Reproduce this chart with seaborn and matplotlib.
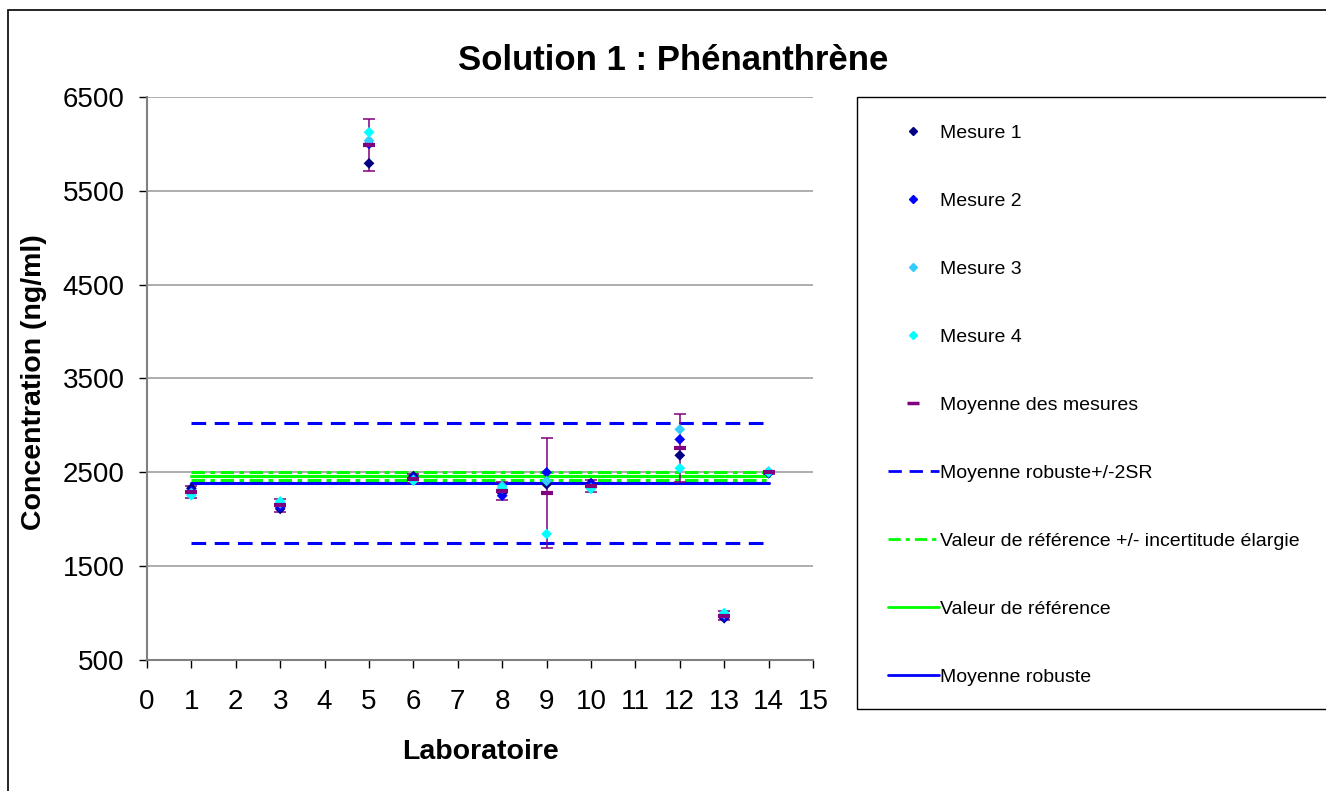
import matplotlib
matplotlib.use("Agg")
import matplotlib.pyplot as plt
from matplotlib.lines import Line2D
from matplotlib.patches import Rectangle
import seaborn as sns
import pandas as pd
import numpy as np

# ---------------- data ----------------
labs = [1, 3, 5, 6, 8, 9, 10, 12, 13, 14]
mesure1 = [2330, 2110, 5793, 2460, 2276, 2372, 2385, 2681, 945, 2495]
mesure2 = [2300, 2130, 6000, 2440, 2251, 2500, 2375, 2851, 960, 2490]
mesure3 = [2280, 2170, 6035, 2420, 2354, 2408, 2330, 2958, 990, 2510]
mesure4 = [2255, 2190, 6124, 2410, 2330, 1843, 2325, 2543, 1000, 2500]
moyennes = [2291, 2150, 5988, 2432, 2303, 2281, 2354, 2758, 974, 2499]
erreurs = [65, 70, 277, 45, 95, 588, 60, 365, 50, 15]

line_x = [1, 14]
moyenne_robuste = 2390
moy_rob_haut = 3030
moy_rob_bas = 1750
valeur_ref = 2461
val_ref_haut = 2500
val_ref_bas = 2422

series_names = ["Mesure 1", "Mesure 2", "Mesure 3", "Mesure 4"]
series_colors = ["#000080", "#0000FF", "#33CCFF", "#00FFFF"]

x_ticks = list(range(0, 16))
y_ticks = [500, 1500, 2500, 3500, 4500, 5500, 6500]

# ---------------- figure ----------------
sns.set_theme(style="white")
plt.rcParams["font.family"] = ["Liberation Sans", "DejaVu Sans"]
plt.rcParams["text.color"] = "black"
plt.rcParams["axes.labelcolor"] = "black"
plt.rcParams["xtick.color"] = "black"
plt.rcParams["ytick.color"] = "black"

W, H = 1326, 791
fig = plt.figure(figsize=(W / 100, H / 100), dpi=100)
ax = fig.add_axes([147 / W, 1 - 660 / H, (813 - 147) / W, (660 - 97) / H])

# reference lines
lines_df = pd.DataFrame({
    "x": line_x * 6,
    "y": [moy_rob_haut] * 2 + [moy_rob_bas] * 2 + [val_ref_haut] * 2 + [val_ref_bas] * 2
         + [valeur_ref] * 2 + [moyenne_robuste] * 2,
    "g": ["rh"] * 2 + ["rb"] * 2 + ["vh"] * 2 + ["vb"] * 2 + ["v"] * 2 + ["r"] * 2,
})
dash_blue = (4.8, 2.8)
dash_green = (4.4, 1.8, 1.5, 1.8)
styles = {
    "rh": ("#0000FF", dash_blue), "rb": ("#0000FF", dash_blue),
    "vh": ("#00FF00", dash_green), "vb": ("#00FF00", dash_green),
    "v": ("#00FF00", None), "r": ("#0000FF", None),
}
for g, (col, dash) in styles.items():
    sub = lines_df[lines_df["g"] == g]
    sns.lineplot(data=sub, x="x", y="y", color=col, linewidth=2.2, ax=ax,
                 legend=False, zorder=2)
    ln = ax.lines[-1]
    if dash is not None:
        ln.set_dashes(dash)

# error bars
ax.errorbar(labs, moyennes, yerr=erreurs, fmt="none", ecolor="#800080",
            elinewidth=1.1, capsize=4.5, capthick=1.1, zorder=3)

# measurements
rows = []
for name, vals in zip(series_names, [mesure1, mesure2, mesure3, mesure4]):
    for lab, v in zip(labs, vals):
        rows.append({"lab": lab, "value": v, "mesure": name})
df = pd.DataFrame(rows)
sns.scatterplot(data=df, x="lab", y="value", hue="mesure",
                palette=dict(zip(series_names, series_colors)),
                marker="D", s=30, linewidth=0, ax=ax, legend=False, zorder=4)

ax.plot(labs, moyennes, linestyle="none", marker="_", markersize=9,
        markeredgewidth=3, color="#800080", zorder=5)

# axes styling
ax.set_xlim(0, 15)
ax.set_ylim(500, 6500)
ax.set_xticks(x_ticks)
ax.set_yticks(y_ticks)
ax.set_xticklabels([str(t) for t in x_ticks])
ax.set_yticklabels([str(t) for t in y_ticks])
ax.tick_params(axis="both", which="major", labelsize=20, direction="out",
               length=6, width=1, color="black", bottom=True, left=True)
ax.tick_params(axis="x", pad=15)
ax.tick_params(axis="y", pad=10)
ax.yaxis.grid(True, color="#A0A0A0", linewidth=1.2)
ax.xaxis.grid(False)
for side in ["top", "right"]:
    ax.spines[side].set_visible(False)
for side in ["left", "bottom"]:
    ax.spines[side].set_color("#808080")
    ax.spines[side].set_linewidth(1.5)

ax.set_xlabel("Laboratoire", fontsize=20.5, fontweight="bold")
ax.set_ylabel("Concentration (ng/ml)", fontsize=20.5, fontweight="bold")
ax.xaxis.set_label_coords((481 - 147) / (813 - 147), -(739 - 660) / (660 - 97))
ax.yaxis.set_label_coords(-(147 - 47) / (813 - 147), 0.494)

fig.text(673 / W, 1 - 60 / H, "Solution 1 : Phénanthrène", fontsize=25,
         fontweight="bold", ha="center", va="center")

# legend
handles = [
    Line2D([], [], linestyle="none", marker="D", markersize=4.5, color=c)
    for c in series_colors
] + [
    Line2D([], [], linestyle="none", marker="_", markersize=8, markeredgewidth=2.5,
           color="#800080"),
    Line2D([], [], color="#0000FF", linewidth=2, dashes=dash_blue),
    Line2D([], [], color="#00FF00", linewidth=2, dashes=dash_green),
    Line2D([], [], color="#00FF00", linewidth=2),
    Line2D([], [], color="#0000FF", linewidth=2),
]
labels = series_names + ["Moyenne des mesures", "Moyenne robuste+/-2SR",
                         "Valeur de référence +/- incertitude élargie",
                         "Valeur de référence", "Moyenne robuste"]
fig.legend(handles, labels, loc="upper left",
           bbox_to_anchor=(888 / W, 1 - 124 / H), frameon=False,
           fontsize=14, labelspacing=2.595, handlelength=2.6, handletextpad=0.1,
           borderpad=0, borderaxespad=0)
fig.patches.append(Rectangle((857 / W, 1 - 709 / H), 1.0, (709 - 97) / H,
                             transform=fig.transFigure, fill=False,
                             edgecolor="black", linewidth=1))
# outer chart border
fig.patches.append(Rectangle((8 / W, -0.5), 1.5, 1.5 - 10 / H,
                             transform=fig.transFigure, fill=False,
                             edgecolor="black", linewidth=1.2))

fig.savefig("out.png", dpi=100)
